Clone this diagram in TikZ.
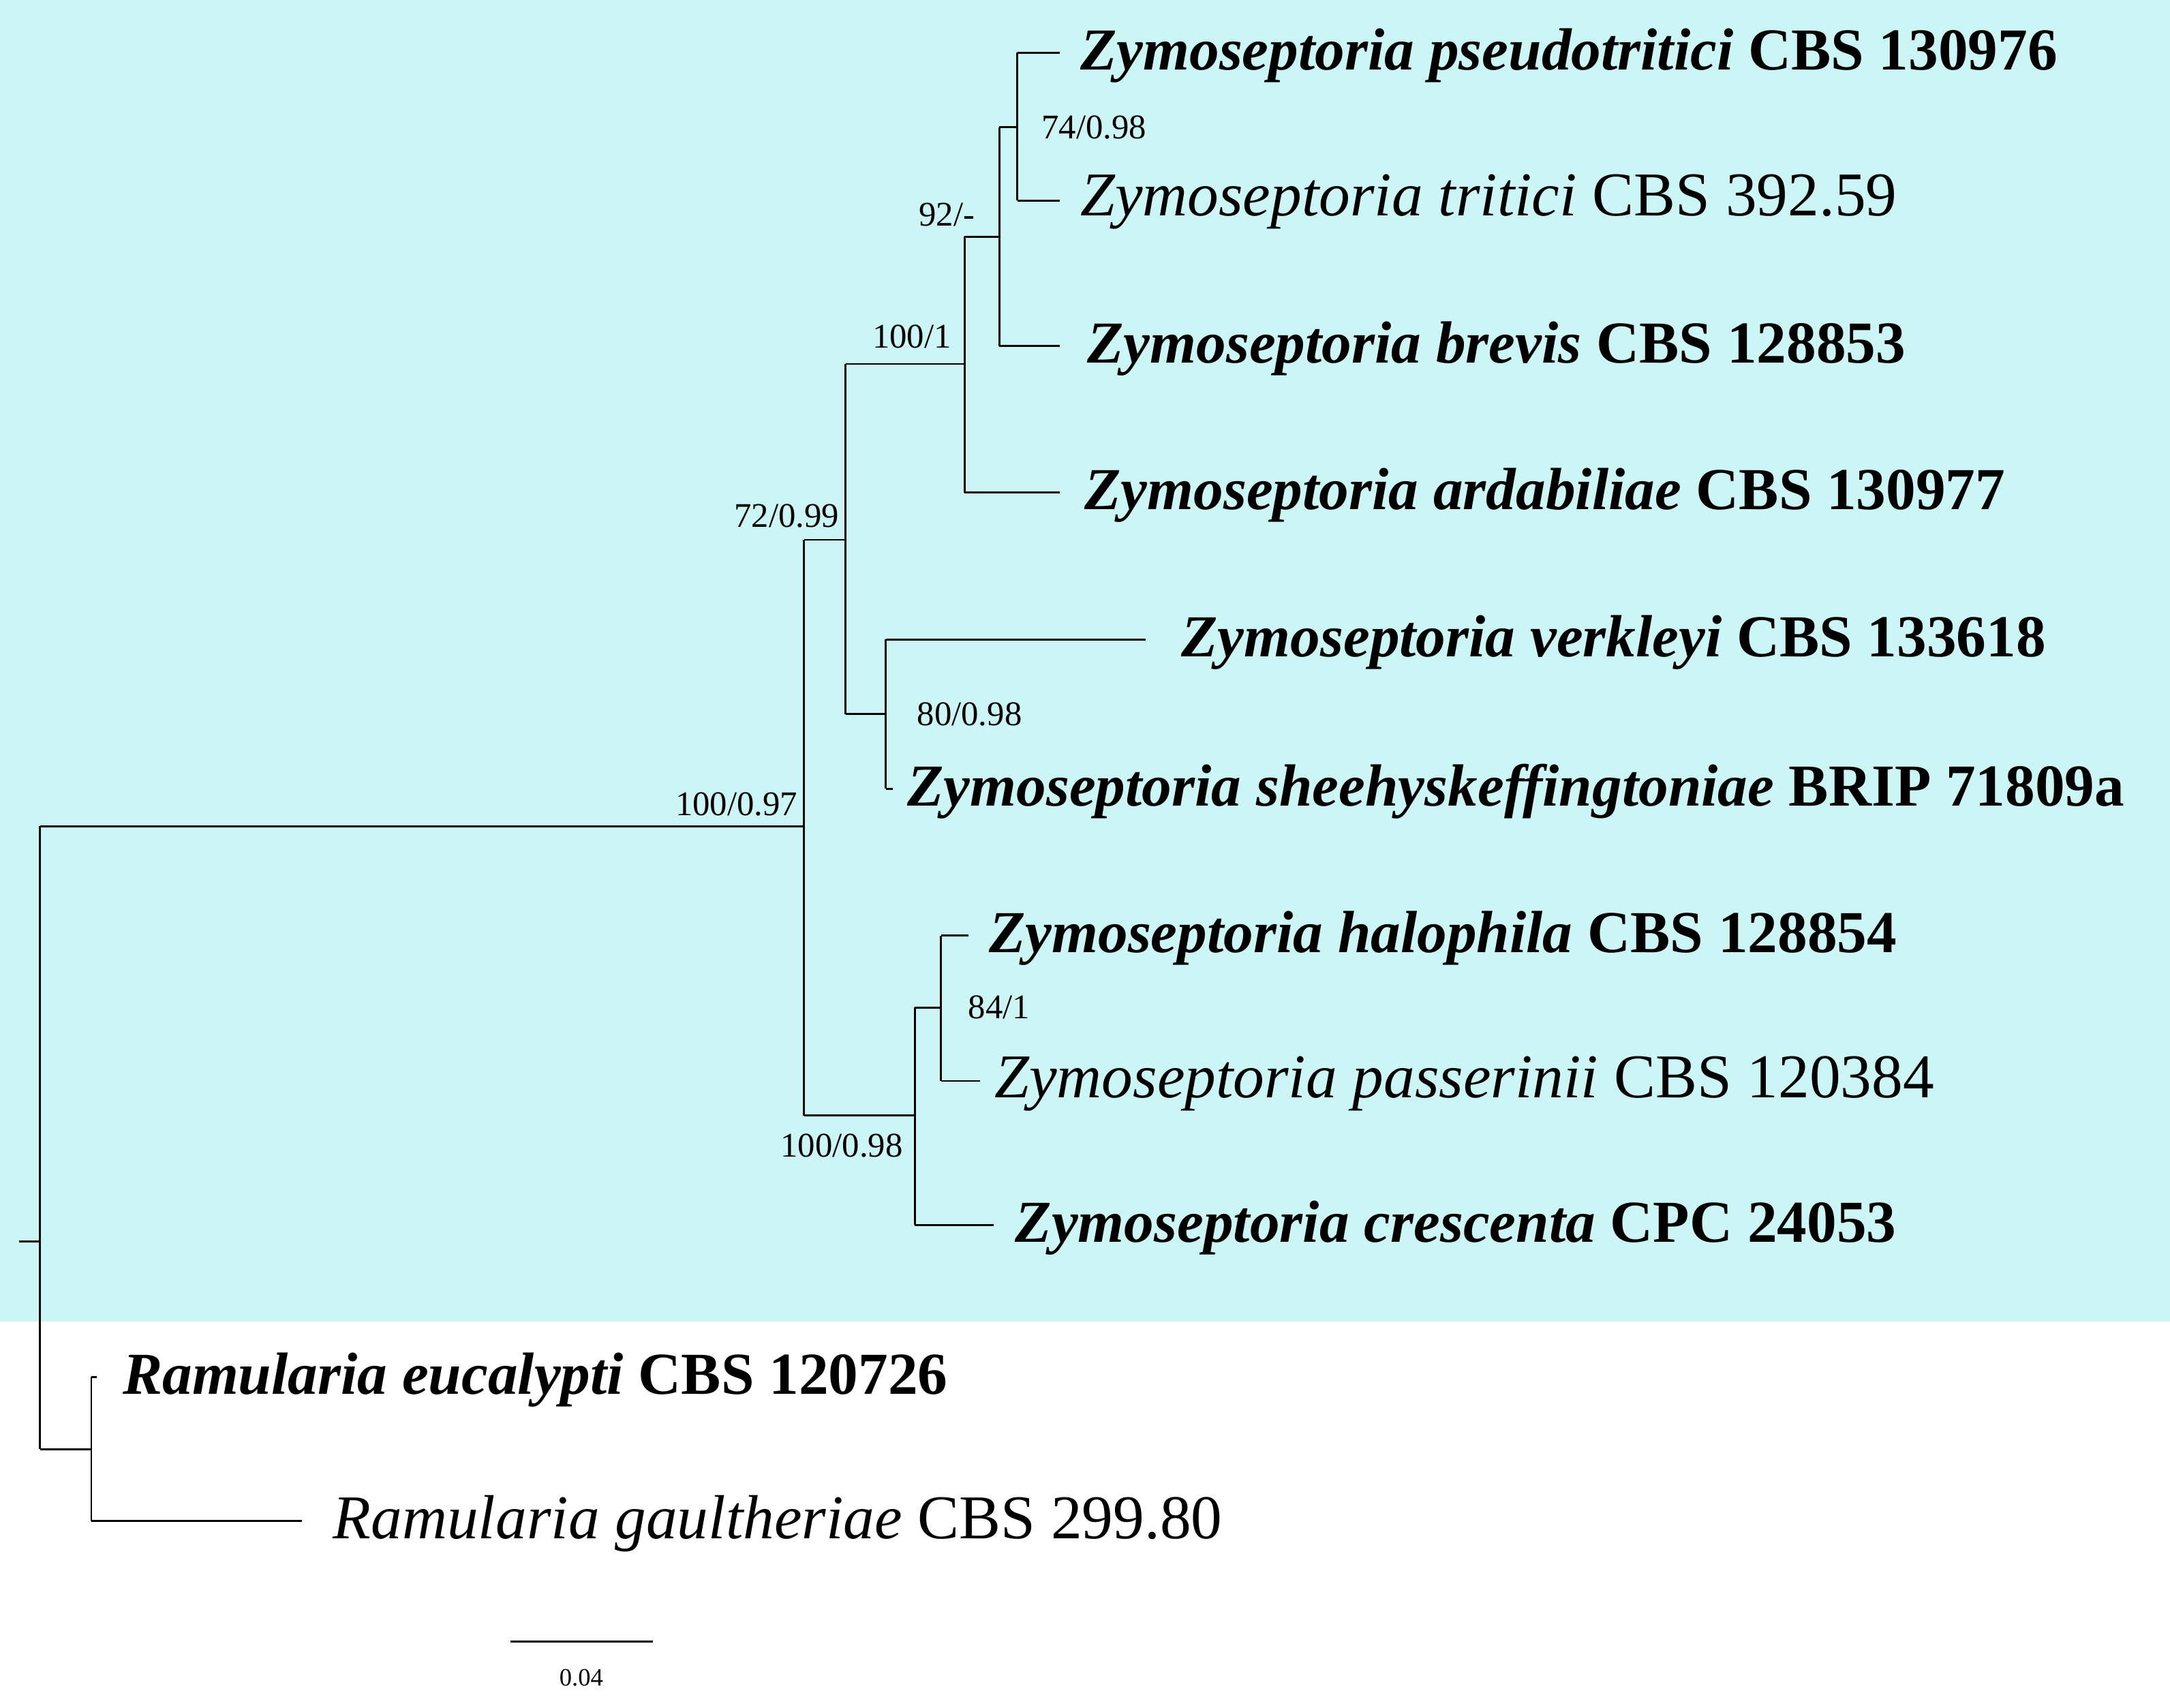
\documentclass[tikz,border=0pt]{standalone}
\usepackage{fontspec}
\setmainfont{Liberation Serif}
\begin{document}
\begin{tikzpicture}[x=1pt,y=-1pt,line width=1.4pt,
 tx/.style={anchor=west,inner sep=0pt,font=\fontsize{45}{48}\selectfont},
 bx/.style={tx,font=\fontsize{43}{46}\selectfont\bfseries},
 lb/.style={inner sep=0pt,font=\fontsize{25}{27}\selectfont}]
\useasboundingbox (0,0) rectangle (1568,1234);
\fill[fill={rgb,255:red,204;green,245;blue,245}] (0,0) rectangle (1568,955);
\coordinate (r) at (29,897);
\draw (14,897) -- (r);
\draw (29,597) -- (29,1047);
\draw (29,597) -- (581,597);
\draw (581,390) -- (581,806);
\draw (581,390) -- (611,390);
\draw (611,263) -- (611,516);
\draw (611,263) -- (697,263);
\draw (697,171) -- (697,356);
\draw (697,171) -- (722,171);
\draw (722,92) -- (722,250);
\draw (722,92) -- (735,92);
\draw (735,38) -- (735,145);
\draw (735,38) -- (766,38);
\draw (735,145) -- (766,145);
\draw (722,250) -- (766,250);
\draw (697,356) -- (766,356);
\draw (611,516) -- (640,516);
\draw (640,462) -- (640,570);
\draw (640,462) -- (828,462);
\draw (640,570) -- (645,570);
\draw (581,806) -- (661,806);
\draw (661,728) -- (661,885);
\draw (661,728) -- (680,728);
\draw (680,676) -- (680,781);
\draw (680,676) -- (700,676);
\draw (680,781) -- (708,781);
\draw (661,885) -- (718,885);
\draw (29,1047) -- (66,1047);
\draw (66,995) -- (66,1099);
\draw (66,995) -- (70,995);
\draw (66,1099) -- (218,1099);
\draw (369,1186) -- (472,1186);
\node[bx] (t1) at (780,40) {\itshape Zymoseptoria pseudotritici\upshape{} CBS 130976};
\node[tx] (t2) at (780,146) {\itshape Zymoseptoria tritici\upshape{} CBS 392.59};
\node[bx] (t3) at (785,252) {\itshape Zymoseptoria brevis\upshape{} CBS 128853};
\node[bx] (t4) at (783,358) {\itshape Zymoseptoria ardabiliae\upshape{} CBS 130977};
\node[bx] (t5) at (853,464) {\itshape Zymoseptoria verkleyi\upshape{} CBS 133618};
\node[bx] (t6) at (655,572) {\itshape Zymoseptoria sheehyskeffingtoniae\upshape{} BRIP 71809a};
\node[bx] (t7) at (714,678) {\itshape Zymoseptoria halophila\upshape{} CBS 128854};
\node[tx] (t8) at (718,783) {\itshape Zymoseptoria passerinii\upshape{} CBS 120384};
\node[bx] (t9) at (733,887) {\itshape Zymoseptoria crescenta\upshape{} CPC 24053};
\node[bx] (t10) at (88,997) {\itshape Ramularia eucalypti\upshape{} CBS 120726};
\node[tx] (t11) at (240,1101) {\itshape Ramularia gaultheriae\upshape{} CBS 299.80};
\node[lb,anchor=east] (s1) at (577,581) {100/0.97};
\node[lb,anchor=east] (s2) at (607,373) {72/0.99};
\node[lb,anchor=east] (s3) at (688,243) {100/1};
\node[lb,anchor=east] (s4) at (705,155) {92/-};
\node[lb,anchor=west] (s5) at (752,92) {74/0.98};
\node[lb,anchor=west] (s6) at (662,516) {80/0.98};
\node[lb,anchor=east] (s7) at (653,828) {100/0.98};
\node[lb,anchor=west] (s8) at (699,728) {84/1};
\node[lb,font=\fontsize{18}{19}\selectfont] (sc) at (420,1212) {0.04};
\end{tikzpicture}
\end{document}
